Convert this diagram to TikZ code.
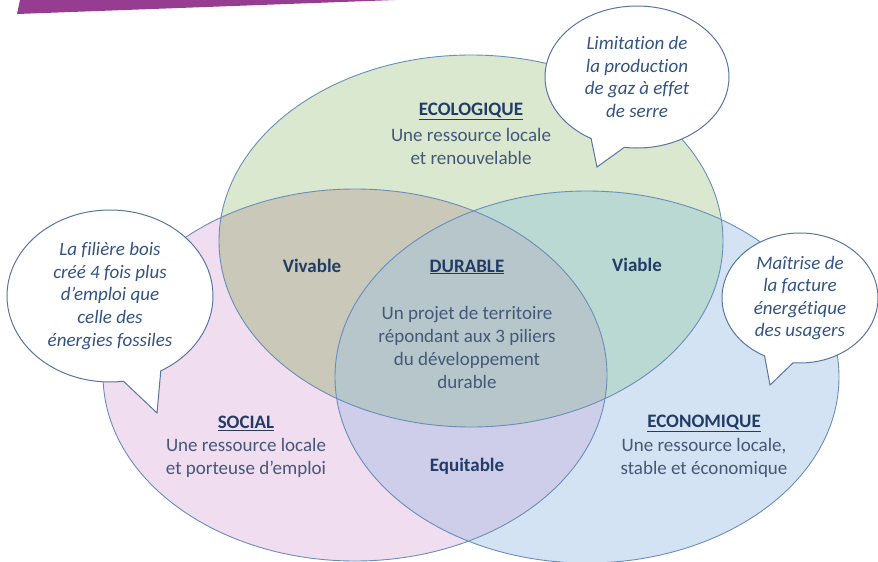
\documentclass[tikz,border=0pt]{standalone}
\usepackage{fontspec}
\setmainfont{Carlito}[Ligatures=NoCommon]
\usetikzlibrary{shapes.callouts}

\definecolor{ecofill}{RGB}{218,232,208}
\definecolor{socfill}{RGB}{240,221,240}
\definecolor{ecnfill}{RGB}{212,227,243}
\definecolor{vivfill}{RGB}{201,200,185}
\definecolor{viafill}{RGB}{186,217,210}
\definecolor{equfill}{RGB}{206,206,235}
\definecolor{durfill}{RGB}{182,198,203}
\definecolor{rim}{RGB}{105,142,185}
\definecolor{navy}{RGB}{34,60,102}
\definecolor{slate}{RGB}{68,88,120}
\definecolor{bubbleline}{RGB}{88,118,160}
\definecolor{bubbletext}{RGB}{52,84,130}
\definecolor{banner}{RGB}{150,60,145}

\begin{document}
\begin{tikzpicture}[
    x=1pt, y=-1pt,
    ecologique/.style={insert path={(471,241) ellipse [x radius=252pt, y radius=186pt]}},
    social/.style={insert path={(355,375) ellipse [x radius=252pt, y radius=186pt]}},
    economique/.style={insert path={(587,377) ellipse [x radius=252pt, y radius=186pt]}},
    head/.style={font=\fontsize{19}{23}\selectfont\bfseries, text=navy, inner sep=0pt},
    body/.style={font=\fontsize{19}{23}\selectfont, text=slate, align=center, inner sep=0pt},
    bubble/.style={ellipse callout, draw=bubbleline, line width=1pt, fill=white, inner sep=0pt,
        callout pointer arc=22, font=\fontsize{19}{22.6}\selectfont\itshape, text=bubbletext, align=center}
]
    \useasboundingbox (0,0) rectangle (878,562);

    % Circles
    \fill[socfill, social];
    \fill[ecnfill, economique];
    \fill[ecofill, ecologique];

    % Overlaps
    \begin{scope}
        \clip[economique];
        \fill[viafill, ecologique];
    \end{scope}
    \begin{scope}
        \clip[social];
        \fill[vivfill, ecologique];
        \fill[equfill, economique];
        \clip[economique];
        \fill[durfill, ecologique];
    \end{scope}

    \draw[rim, line width=0.9pt, social];
    \draw[rim, line width=0.9pt, economique];
    \draw[rim, line width=0.9pt, ecologique];

    % Pillars
    \node[head] (eco) at (471,111) {\underline{ECOLOGIQUE}};
    \node[body] (ecotext) at (471,146) {Une ressource locale\\et renouvelable};
    \node[head] (soc) at (246,423) {\underline{SOCIAL}};
    \node[body] (soctext) at (246,458) {Une ressource locale\\et porteuse d’emploi};
    \node[head] (ecn) at (704,423) {\underline{ECONOMIQUE}};
    \node[body] (ecntext) at (704,458) {Une ressource locale,\\stable et économique};

    % Overlaps
    \node[head] (vivable) at (312,266) {Vivable};
    \node[head] (viable) at (637,265) {Viable};
    \node[head] (equitable) at (467,466) {Equitable};
    \node[head] (durable) at (467,267) {\underline{DURABLE}};
    \node[body] (durtext) at (467,347) {Un projet de territoire\\répondant aux 3 piliers\\du développement\\durable};

    % Banner
    \fill[banner] (20,0) -- (395,0) -- (17,14) -- cycle;

    % Bubbles
    \node[bubble, minimum width=184pt, minimum height=142pt, callout absolute pointer={(597,167)}]
        (gaz) at (637,77) {Limitation de\\la production\\de gaz à effet\\de serre};
    \node[bubble, minimum width=206pt, minimum height=172pt, callout absolute pointer={(157,413)}]
        (emploi) at (110,296) {La filière bois\\créé 4 fois plus\\d’emploi que\\celle des\\énergies fossiles};
    \node[bubble, minimum width=156pt, minimum height=130pt, callout absolute pointer={(770,385)}]
        (facture) at (800,298) {Maîtrise de\\la facture\\énergétique\\des usagers};
\end{tikzpicture}
\end{document}
